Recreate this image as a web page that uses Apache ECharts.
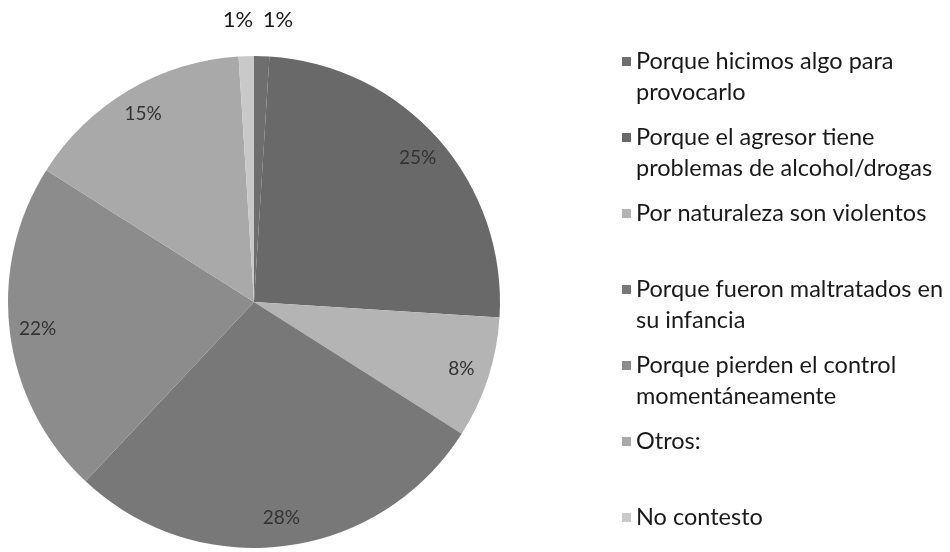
<!DOCTYPE html>
<html>
<head>
<meta charset="utf-8">
<title>pie</title>
<script src="https://cdn.jsdelivr.net/npm/echarts@6/dist/echarts.min.js"></script>
<style>
  html, body { margin: 0; padding: 0; background: #fff; }
  #chart { width: 950px; height: 552px; }
</style>
</head>
<body>
<div id="chart"></div>
<script>
// categorias (leyenda) y porcentajes
var categories = [
  'Porque hicimos algo para\nprovocarlo',
  'Porque el agresor tiene\nproblemas de alcohol/drogas',
  'Por naturaleza son violentos',
  'Porque fueron maltratados en\nsu infancia',
  'Porque pierden el control\nmomentáneamente',
  'Otros:',
  'No contesto'
];
var values = [1, 25, 8, 28, 22, 15, 1];
var sliceColors = ['#6e6e6e', '#696969', '#b4b4b4', '#787878', '#8c8c8c', '#a9a9a9', '#c9c9c9'];

var lineH = 31;
var chart = echarts.init(document.getElementById('chart'));

var pieData = [];
var labelData = [];
var legendData = [];
for (var i = 0; i < categories.length; i++) {
  pieData.push({ name: categories[i], value: values[i], itemStyle: { color: sliceColors[i] } });
  var lab = { name: categories[i], value: values[i] };
  // los 1% van fuera, arriba
  if (values[i] < 2) {
    lab.label = {
      position: 'outside',
      fontSize: 22,
      color: '#1a1a1a',
      distanceToLabelLine: i == 0 ? 0 : -8
    };
    lab.labelLine = { show: false, length: 42, length2: 0 };
  }
  labelData.push(lab);
  var twoLines = categories[i].indexOf('\n') >= 0;
  legendData.push({
    name: categories[i],
    textStyle: { padding: twoLines ? 0 : [lineH, 0, lineH, 0] }
  });
}

var option = {
  animation: false,
  legend: {
    orient: 'vertical',
    left: 622,
    top: 15,
    height: 700,
    padding: 0,
    itemGap: 76 - 3 * lineH,
    itemWidth: 9,
    itemHeight: 9,
    icon: 'rect',
    data: legendData,
    // linea vacia delante para que el icono quede en la primera linea
    formatter: function (name) {
      return name.indexOf('\n') >= 0 ? '\n' + name : name;
    },
    textStyle: {
      fontFamily: 'Lato',
      fontSize: 23.5,
      color: '#1a1a1a',
      lineHeight: lineH,
      backgroundColor: 'rgba(0,0,0,0)'
    }
  },
  series: [
    {
      type: 'pie',
      center: [254, 302],
      radius: 246,
      startAngle: 90,
      clockwise: true,
      silent: true,
      label: { show: false },
      labelLine: { show: false },
      itemStyle: { borderWidth: 0 },
      data: pieData
    },
    {
      // anillo transparente solo para colocar las etiquetas
      type: 'pie',
      center: [254, 302],
      radius: [190, 240],
      startAngle: 90,
      clockwise: true,
      silent: true,
      avoidLabelOverlap: false,
      itemStyle: { color: 'rgba(0,0,0,0)', borderWidth: 0 },
      label: {
        show: true,
        position: 'inside',
        formatter: '{c}%',
        fontFamily: 'Lato',
        fontSize: 19,
        color: '#333'
      },
      labelLine: { show: false },
      data: labelData
    }
  ]
};
chart.setOption(option);
</script>
</body>
</html>
